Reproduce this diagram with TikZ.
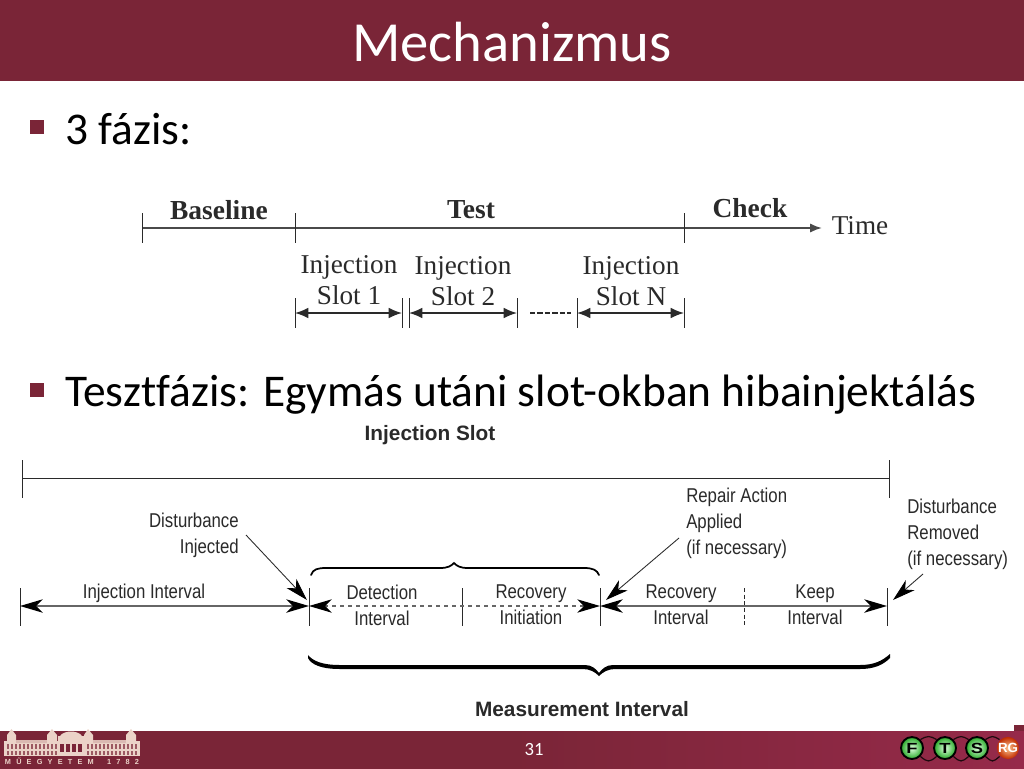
\documentclass[tikz,border=0pt]{standalone}
\usepackage{fontspec}
\setmainfont[Ligatures=NoCommon]{Carlito}
\newfontfamily\serifimg{Liberation Serif}
\newfontfamily\sansimg{Liberation Sans}
\newfontfamily\narrowimg[FakeStretch=0.84]{Liberation Sans}
\newfontfamily\wideimg[FakeStretch=1.25]{Liberation Sans}
\usetikzlibrary{arrows.meta,shadings}
\definecolor{band}{HTML}{7A2537}
\definecolor{bandlight}{HTML}{962A4A}
\definecolor{imgtext}{HTML}{2A2A2A}
\definecolor{pale}{HTML}{EBD3C8}
\tikzset{
  x=0.75pt,y=-0.75pt,
  titletext/.style={text=white,font=\fontsize{42.5}{42.5}\selectfont,inner sep=0pt},
  bodytext/.style={text=black,font=\fontsize{34.05}{34}\selectfont,inner sep=0pt,anchor=base west},
  bulletbox/.style={fill=band,draw=none,minimum size=10.5pt,inner sep=0pt},
  serifbold/.style={text=imgtext,inner sep=0pt,font=\serifimg\bfseries\fontsize{20.6}{20.6}\selectfont},
  serifplain/.style={text=imgtext,inner sep=0pt,align=center,font=\serifimg\fontsize{20.4}{23.5}\selectfont},
  sansbold/.style={text=imgtext,inner sep=0pt,font=\sansimg\bfseries\fontsize{15.6}{15.6}\selectfont},
  sanslabel/.style={text=imgtext,inner sep=0pt,font=\narrowimg\fontsize{15}{19.5}\selectfont},
  tick/.style={draw=imgtext,line width=0.7pt},
  toptimeline/.style={draw=imgtext!85,line width=1.5pt},
  slotarrow/.style={draw=imgtext,line width=1.1pt,{Latex[length=10pt,width=8pt]}-{Latex[length=10pt,width=8pt]}},
  bigtips/.style={{Stealth[length=17pt,width=10pt,inset=5pt,color=black]}-{Stealth[length=17pt,width=10pt,inset=5pt,color=black]}},
  spanline/.style={draw=black!60,line width=1.4pt,bigtips},
  dashspan/.style={draw=black!60,line width=0.9pt,dashed,bigtips},
  callout/.style={draw=imgtext,line width=0.65pt,-{Stealth[length=17pt,width=10pt,inset=5pt,color=black]}},
  logoball/.style={circle,draw=black,line width=1.4pt,minimum size=16.5pt,inner sep=0pt,text=black,font=\wideimg\bfseries\fontsize{11}{11}\selectfont},
  greenball/.style={logoball,inner color=green!12!white,outer color=green!60!black!85},
  redball/.style={logoball,draw=none,inner color=orange!45!white,outer color=red!55!orange!75!black,text=white,font=\sansimg\bfseries\fontsize{10}{10}\selectfont},
  logoarc/.style={draw=black!75!band,line width=0.9pt},
}
\begin{document}
\begin{tikzpicture}
\useasboundingbox (0,0) rectangle (1024,768);
\fill[white] (0,0) rectangle (1024,768);
% header and footer bands
\fill[band] (0,0) rectangle (1024,81);
\shade[left color=band,right color=bandlight,middle color=band] (0,731) rectangle (1024,768);
\fill[band] (1014,725) rectangle (1024,731);
\node[titletext] (title) at (512,42) {Mechanizmus};
\node[text=white,inner sep=0pt,font=\fontsize{14}{14}\selectfont] (pagenum) at (534,749) {31};
% bullets
\node[bulletbox] (b1) at (37,127) {};
\node[bodytext] (t1) at (65,144) {3 fázis:};
\node[bulletbox] (b2) at (37,390) {};
\node[bodytext] (t2) at (65,406) {Tesztfázis: Egymás utáni slot-okban hibainjektálás};
% upper diagram
\coordinate (tlstart) at (142,228);
\coordinate (tlbase) at (295,228);
\coordinate (tltest) at (684,228);
\coordinate (tlend) at (822,228);
\draw[toptimeline,-{Latex[length=9pt,width=7pt]}] (tlstart) -- (tlend);
\foreach \xx/\nm in {142/a,295/b,684/c}{
  \coordinate (u\nm) at (\xx,213); \coordinate (v\nm) at (\xx,243);
  \draw[tick] (u\nm) -- (v\nm);
}
\node[serifbold] (baseline) at (219,210) {Baseline};
\node[serifbold] (testlbl) at (471,210) {Test};
\node[serifbold] (check) at (750,208) {Check};
\node[serifplain] (time) at (860,226) {Time};
\node[serifplain] (s1) at (349,280) {Injection\\Slot 1};
\node[serifplain] (s2) at (463,281) {Injection\\Slot 2};
\node[serifplain] (sn) at (631,281) {Injection\\Slot N};
\foreach \xx/\nm in {295/p,402/q,409/r,517/s,577/t,684/w}{
  \coordinate (\nm1) at (\xx,298); \coordinate (\nm2) at (\xx,328); \coordinate (\nm m) at (\xx,313);
  \draw[tick] (\nm1) -- (\nm2);
}
\draw[slotarrow] (pm) -- (qm);
\draw[slotarrow] (rm) -- (sm);
\draw[slotarrow] (tm) -- (wm);
\coordinate (d1) at (530,313); \coordinate (d2) at (571,313);
\draw[draw=imgtext,line width=1pt,dash pattern=on 4pt off 1.6pt] (d1) -- (d2);
% lower diagram
\node[sansbold] (slot) at (430,435) {Injection Slot};
\coordinate (sl1) at (22,478); \coordinate (sl2) at (889,478);
\draw[draw=imgtext,line width=0.7pt] (sl1) -- (sl2);
\foreach \xx/\nm in {22/e,889/f}{
  \coordinate (u\nm) at (\xx,460); \coordinate (v\nm) at (\xx,498);
  \draw[tick] (u\nm) -- (v\nm);
}
\foreach \xx/\nm in {20/g,309/h,462/i,600/j,887/k}{
  \coordinate (u\nm) at (\xx,588); \coordinate (v\nm) at (\xx,626); \coordinate (m\nm) at (\xx,606);
  \draw[tick] (u\nm) -- (v\nm);
}
\coordinate (ul) at (744,588); \coordinate (vl) at (744,626);
\draw[draw=imgtext,line width=0.6pt,dash pattern=on 3pt off 2pt] (ul) -- (vl);
\draw[spanline] (mg) -- (mh);
\draw[dashspan] (mh) -- (mj);
\draw[spanline] (mj) -- (mk);
\node[sanslabel] (ii) at (144,593) {Injection Interval};
\node[sanslabel,align=center] (di) at (382,605) {Detection\\Interval};
\node[sanslabel,align=center] (ri) at (531,605) {Recovery\\Initiation};
\node[sanslabel,align=center] (rv) at (681,605) {Recovery\\Interval};
\node[sanslabel,align=center] (ki) at (815,605) {Keep\\Interval};
\node[sanslabel,align=right,anchor=east] (dinj) at (239,535) {Disturbance\\Injected};
\node[sanslabel,align=left,anchor=west] (rep) at (686,523) {Repair Action\\Applied\\(if necessary)};
\node[sanslabel,align=left,anchor=west] (drem) at (907,534) {Disturbance\\Removed\\(if necessary)};
\node[sansbold] (meas) at (582,709) {Measurement Interval};
\coordinate (c1a) at (246,535); \coordinate (c1b) at (307,600);
\coordinate (c2a) at (679,538); \coordinate (c2b) at (606,600);
\coordinate (c3a) at (923,574); \coordinate (c3b) at (893,600);
\draw[callout] (c1a) -- (c1b);
\draw[callout] (c2a) -- (c2b);
\draw[callout] (c3a) -- (c3b);
% braces
\draw[black,line width=1.3pt,line cap=round] (311,575) .. controls (313,569) and (318,568) .. (326,568) -- (440,568) .. controls (448,568) and (451,566) .. (454,563) .. controls (457,566) and (460,568) .. (468,568) -- (584,568) .. controls (593,568) and (597,570) .. (599,575);
\fill[black] (308,655) .. controls (313,661) and (322,665) .. (340,665) -- (585,665) .. controls (592,665) and (596,669) .. (599,673) .. controls (602,669) and (606,665) .. (613,665) -- (860,665) .. controls (874,665) and (882,661) .. (890,654) -- (890,658) .. controls (883,665) and (874,669) .. (860,669) -- (615,669) .. controls (608,669) and (603,672) .. (599,676) .. controls (595,672) and (590,669) .. (583,669) -- (340,669) .. controls (320,669) and (311,664) .. (308,658) -- cycle;
% building (footer logo)
\fill[white] (0,725) rectangle (1014,730.5);
\fill[pale] (4,741) rectangle (140,756);
\fill[pale] (58,736) rectangle (84,756);
\foreach \xa/\xb/\xc in {7/11.5/16,47/52/57,84/88/93,126/131/136}{
  \fill[pale] (\xa,741) -- (\xa,735) -- (\xb,729) -- (\xc,735) -- (\xc,741) -- cycle;
}
\fill[pale] (60,736) .. controls (64,730) and (78,730) .. (82,736) -- cycle;
\fill[pale!85!band] (16,740) rectangle (47,743);
\fill[pale!85!band] (93,740) rectangle (126,743);
\foreach \xx in {7,11,...,55,87,91,...,135}{
  \fill[band!70!pale] (\xx,744) rectangle ++(2,5);
  \fill[band!70!pale] (\xx,751) rectangle ++(2,3.5);
}
\foreach \xx in {60,66,72,78}{
  \fill[band] (\xx,744) rectangle ++(3.5,8);
}
\node[text=pale,inner sep=0pt,font=\sansimg\bfseries\fontsize{5.5}{6}\selectfont] (mue) at (72,761) {M\hspace{3.9pt}Ű\hspace{3.9pt}E\hspace{3.9pt}G\hspace{3.9pt}Y\hspace{3.9pt}E\hspace{3.9pt}T\hspace{3.9pt}E\hspace{3.9pt}M\hspace{10pt}1\hspace{3.9pt}7\hspace{3.9pt}8\hspace{3.9pt}2};
% FTSRG logo
\node[greenball] (lf) at (912,748) {F};
\node[greenball] (lt) at (945,748) {T};
\node[greenball] (ls) at (977,748) {S};
\node[redball] (lr) at (1008,748) {RG};
\draw[logoarc] (lf.south east) .. controls +(7,6) and +(-7,6) .. (lt.south west);
\draw[logoarc] (lt.south east) .. controls +(7,6) and +(-7,6) .. (ls.south west);
\draw[logoarc] (ls.south east) .. controls +(7,6) and +(-7,6) .. (lr.south west);
\draw[logoarc] (lf.north east) .. controls +(7,-4) and +(-7,-4) .. (lt.north west);
\draw[logoarc] (lt.north east) .. controls +(7,-4) and +(-7,-4) .. (ls.north west);
\draw[logoarc] (ls.north east) .. controls +(7,-4) and +(-7,-4) .. (lr.north west);
\end{tikzpicture}
\end{document}
